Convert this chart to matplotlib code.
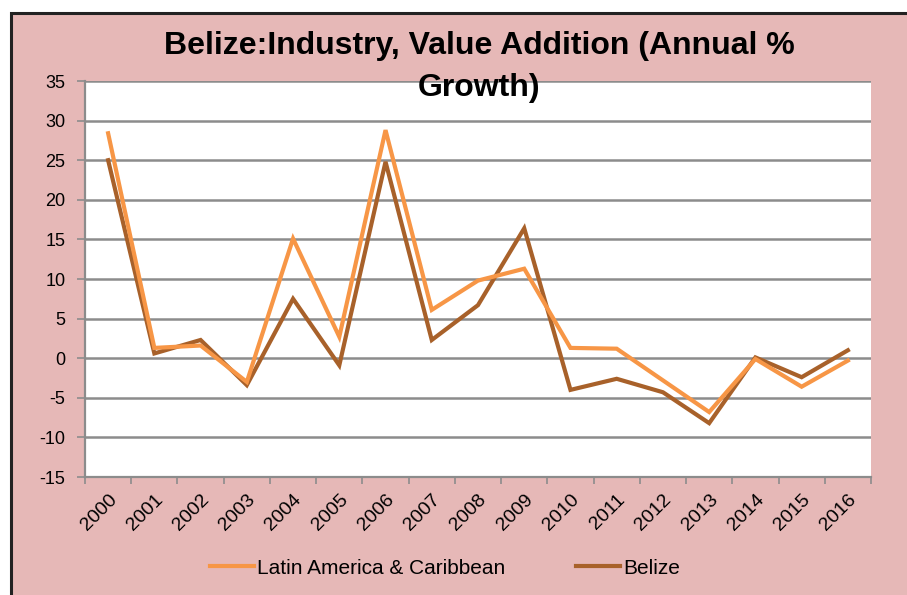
import matplotlib.pyplot as plt
from matplotlib.patches import Rectangle
from matplotlib.ticker import FixedLocator

# Données
years = ["2000", "2001", "2002", "2003", "2004", "2005", "2006", "2007", "2008",
         "2009", "2010", "2011", "2012", "2013", "2014", "2015", "2016"]
latin_america = [28.4, 1.3, 1.6, -3.0, 15.1, 2.7, 28.8, 6.1, 9.8,
                 11.3, 1.3, 1.2, -2.8, -6.8, -0.1, -3.6, -0.3]
belize = [25.0, 0.6, 2.3, -3.4, 7.5, -0.9, 24.8, 2.3, 6.7,
          16.4, -4.0, -2.6, -4.3, -8.2, 0.1, -2.4, 1.0]
y_ticks = list(range(-15, 36, 5))

PINK = "#E6B8B7"
LIGHT = "#F79646"
DARK = "#A8612A"
GRID = "#8C8C8C"

plt.rcParams["font.family"] = ["Liberation Sans", "DejaVu Sans"]
plt.rcParams["axes.unicode_minus"] = False

fig = plt.figure(figsize=(9.07, 5.95), dpi=100, facecolor="white")
W, H = 907, 595

# cadre rose avec bordure noire (haut et gauche visibles)
fig.patches.append(Rectangle((11 / W, -0.02), 1.2, (H - 13) / H + 0.02,
                             transform=fig.transFigure, facecolor=PINK,
                             edgecolor="#222222", lw=2.2, zorder=-5))

ax = fig.add_axes([85 / W, (H - 477) / H, (871 - 85) / W, (477 - 81) / H])
ax.set_zorder(2)
ax.set_facecolor("white")

x = list(range(len(years)))
ax.plot(x, latin_america, color=LIGHT, lw=3.0, label="Latin America & Caribbean",
        solid_joinstyle="miter", zorder=3)
ax.plot(x, belize, color=DARK, lw=3.0, label="Belize",
        solid_joinstyle="miter", zorder=2)

ax.set_xlim(-0.5, len(years) - 0.5)
ax.set_ylim(-15, 35)
ax.set_yticks(y_ticks)
ax.yaxis.grid(True, color=GRID, lw=1.8)
ax.set_axisbelow(True)

ax.set_xticks(x)
ax.set_xticklabels(years, rotation=45, ha="right", rotation_mode="anchor")
ax.xaxis.set_minor_locator(FixedLocator([i - 0.5 for i in range(len(years) + 1)]))
ax.tick_params(axis="x", which="major", length=0, pad=10, labelsize=14)
ax.tick_params(axis="x", which="minor", length=5, color=GRID, width=1.2)
ax.tick_params(axis="y", length=6, color=GRID, width=1.2, labelsize=13, pad=8)

for s in ["top", "right"]:
    ax.spines[s].set_visible(False)
for s in ["left", "bottom"]:
    ax.spines[s].set_color(GRID)
    ax.spines[s].set_linewidth(1.6)

fig.text(479 / W, 1 - 67 / H, "Belize:Industry, Value Addition (Annual %\nGrowth)",
         ha="center", va="center", fontsize=23, fontweight="bold",
         linespacing=1.55, color="black", zorder=5)

fig.legend(loc="center", bbox_to_anchor=(445 / W, 1 - 568 / H), ncol=2,
           frameon=False, fontsize=15, handlelength=2.1, columnspacing=3.4,
           handletextpad=0.15)

fig.savefig("out.png", dpi=100, facecolor=fig.get_facecolor())
